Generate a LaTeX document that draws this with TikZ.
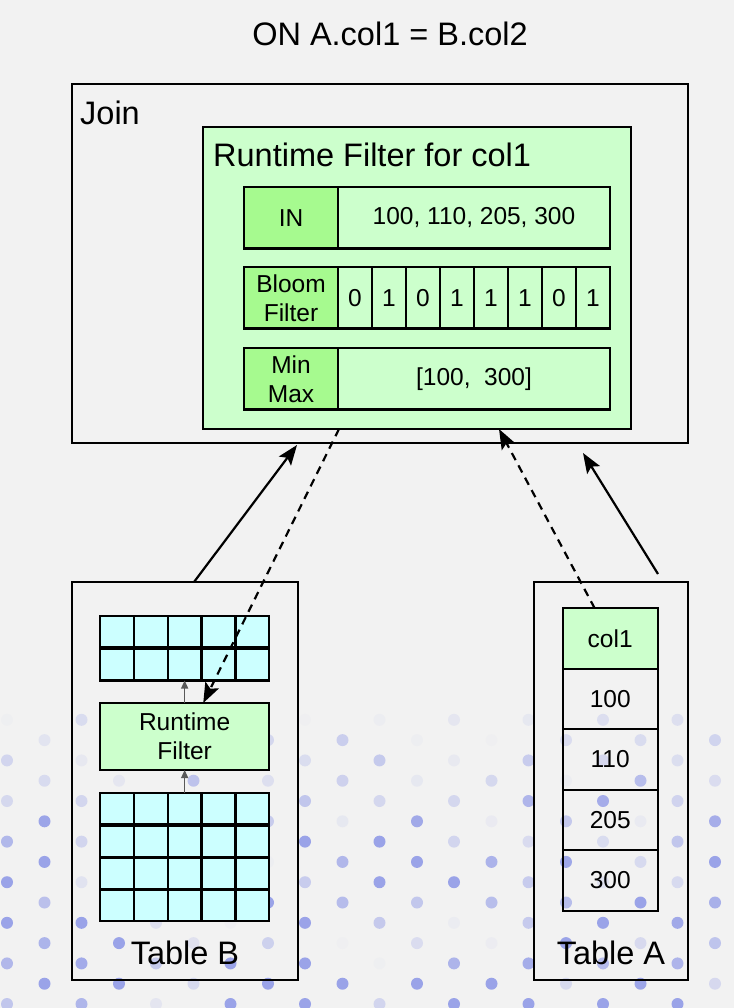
\documentclass[tikz,border=0pt]{standalone}
\usepackage{fontspec}
\setmainfont{Liberation Sans}
\usetikzlibrary{arrows.meta,positioning}

\definecolor{paper}{HTML}{F2F2F2}
\definecolor{rfgreen}{HTML}{CCFFCC}
\definecolor{keygreen}{HTML}{A6FA8F}
\definecolor{rowcyan}{HTML}{CCFFFF}
\definecolor{dotblue}{HTML}{9AA3E8}

\newcommand{\bigsize}{\fontsize{32.5}{39}\selectfont}
\newcommand{\smallsize}{\fontsize{24.5}{29}\selectfont}

\tikzstyle{box}=[draw=black,line width=2.2pt,anchor=north west,inner sep=0pt,outer sep=0pt]
\tikzstyle{keycell}=[box,fill=keygreen,minimum width=94pt,minimum height=61.5pt,font=\smallsize,align=center]
\tikzstyle{valcell}=[box,fill=rfgreen,minimum height=61.5pt,font=\smallsize]
\tikzstyle{rowcell}=[box,fill=rowcyan,minimum width=33.86pt,minimum height=31.5pt]
\tikzstyle{colcell}=[box,minimum width=95pt,minimum height=60.5pt,font=\smallsize]
\tikzstyle{heading}=[font=\bigsize,inner sep=0pt,anchor=base west]
\tikzstyle{flow}=[line width=2.2pt,-{Stealth[length=20pt,width=15pt,inset=4pt]}]
\tikzstyle{rfflow}=[flow,dash pattern=on 8pt off 6pt]
\tikzstyle{scan}=[line width=1.2pt,draw=black!65,-{Triangle[length=8pt,width=7pt]}]

\begin{document}
\begin{tikzpicture}[x=1pt,y=-1pt]
  \fill[paper] (0,0) rectangle (734,1008);
  \useasboundingbox (0,0) rectangle (734,1008);

  % background dots
  \pgfmathsetseed{42}
  \foreach \k in {0,...,14}{
    \foreach \i in {0,...,9}{
      \pgfmathsetmacro{\dotx}{(mod(\k,2)==0 ? 7 : 44.5)+74.5*\i}
      \pgfmathsetmacro{\doty}{1004-20.3*\k}
      \pgfmathsetmacro{\dotop}{max(0,min(1,(1.35-\k/12)*rnd*1.7))}
      \fill[dotblue,opacity=\dotop] (\dotx,\doty) circle (6pt);
    }
  }

  \node[heading,anchor=base] (title) at (390,46) {ON A.col1 = B.col2};

  % join
  \node[box,minimum width=616pt,minimum height=359pt] (join) at (72,84) {};
  \node[heading] (joinname) at (80,125) {Join};
  \node[box,fill=rfgreen,minimum width=428pt,minimum height=302pt] (rf) at (203,127) {};
  \node[heading] (rfname) at (213,166.7) {Runtime Filter for col1};

  \node[keycell] (inkey) at (244,187) {IN};
  \node[valcell,minimum width=272pt,right=0pt of inkey] (inval) {100, 110, 205, 300};
  \node[keycell,below=18.5pt of inkey] (bfkey) {Bloom\\Filter};
  \foreach \b [count=\n] in {0,1,0,1,1,1,0,1}
    \node[valcell,minimum width=34pt] (bit\n) at ({338+34*(\n-1)},267) {\b};
  \node[keycell,below=19.5pt of bfkey] (mmkey) {Min\\Max};
  \node[valcell,minimum width=272pt,right=0pt of mmkey] (mmval) {[100,\ \ 300]};

  % table b
  \node[box,minimum width=226pt,minimum height=398pt] (tableb) at (72,582) {};
  \node[heading,anchor=base] (tbname) at (185,964) {Table B};
  \foreach \r [count=\n] in {616,649,793,826,857.5,889.5}
    \foreach \c in {0,...,4}
      \node[rowcell] (b\n-\c) at ({100+33.86*\c},\r) {};
  \node[box,fill=rfgreen,minimum width=169.3pt,minimum height=67pt,font=\smallsize,align=center] (rfb) at (100,703) {Runtime\\Filter};
  \draw[scan] (b3-2.north) -- (rfb.south);
  \draw[scan] (rfb.north) -- (b2-2.south);

  % table a
  \node[box,minimum width=154pt,minimum height=398pt] (tablea) at (534,582) {};
  \node[heading,anchor=base] (taname) at (611,964) {Table A};
  \node[colcell,fill=rfgreen] (a1) at (562.7,608.3) {col1};
  \foreach \v [count=\n from 2] in {100,110,205,300}
    \node[colcell] (a\n) at (562.7,{608.3+60.5*(\n-1)}) {\v};

  % arrows
  \coordinate (joinin) at (297,445);
  \coordinate (aout) at (658,574);
  \coordinate (joinin2) at (583,453);
  \draw[flow] ([xshift=9pt]tableb.north) -- (joinin);
  \draw[rfflow] ([xshift=136pt]rf.south west) -- ([xshift=18.6pt]rfb.north);
  \draw[rfflow] ([xshift=-15.5pt]a1.north) -- ([xshift=82pt]rf.south);
  \draw[flow] (aout) -- (joinin2);
\end{tikzpicture}
\end{document}
